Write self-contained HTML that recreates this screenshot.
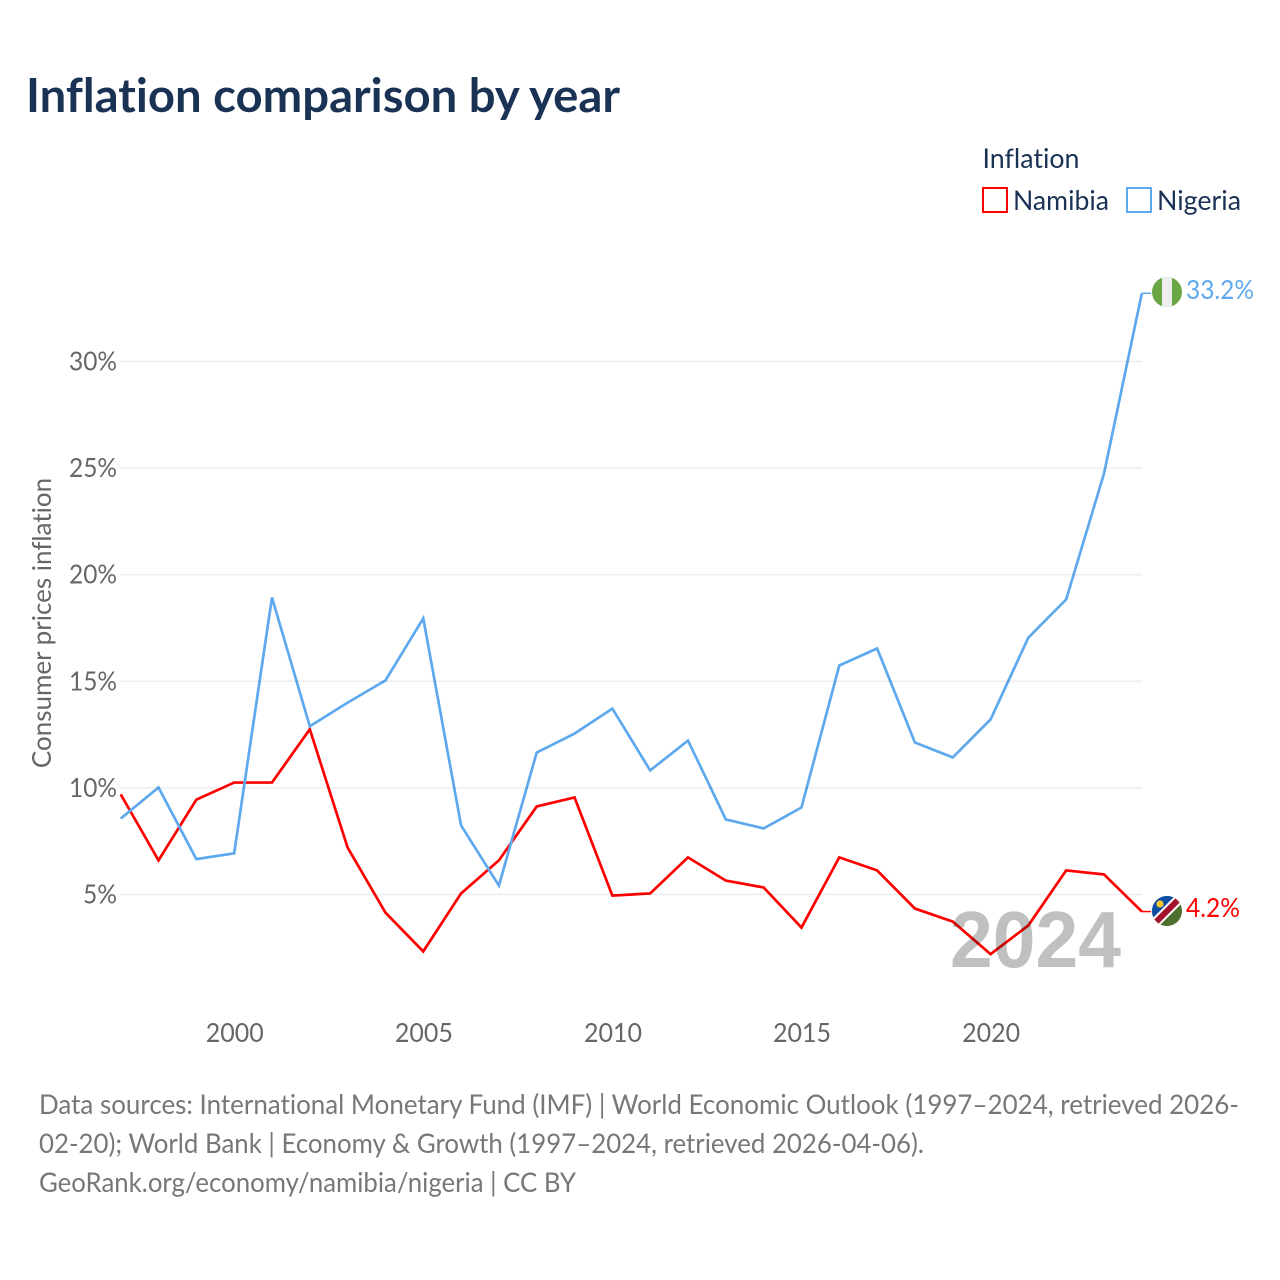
<!DOCTYPE html>
<html lang="en">
<head>
<meta charset="utf-8">
<title>Inflation comparison by year</title>
<style>
html,body{margin:0;padding:0;background:#fff;}
svg{display:block;font-family:"Lato","Carlito","Liberation Sans",sans-serif;font-variant-ligatures:none;}
</style>
</head>
<body>
<svg id="chart" xmlns="http://www.w3.org/2000/svg" width="1280" height="1280" viewBox="0 0 1280 1280">
  <defs>
    <clipPath id="clip-ng"><circle cx="1167" cy="292" r="15"/></clipPath>
    <clipPath id="clip-na"><circle cx="1167" cy="911" r="15"/></clipPath>
  </defs>
  <rect width="1280" height="1280" fill="#fff"/>
  <text x="26" y="112" font-size="47" font-weight="700" fill="#1a3355" textLength="594" lengthAdjust="spacingAndGlyphs">Inflation comparison by year</text>
  <text x="982.5" y="168" font-size="27" fill="#1a3355" textLength="97" lengthAdjust="spacingAndGlyphs">Inflation</text>
  <rect x="983" y="188" width="24" height="24" fill="none" stroke="#ff0000" stroke-width="2"/>
  <text x="1013" y="210" font-size="27" fill="#1a3355" textLength="96" lengthAdjust="spacingAndGlyphs">Namibia</text>
  <rect x="1127" y="188" width="24" height="24" fill="none" stroke="#5ea9ee" stroke-width="2"/>
  <text x="1157" y="210" font-size="27" fill="#1a3355" textLength="84" lengthAdjust="spacingAndGlyphs">Nigeria</text>
  <g id="grid"></g>
  <g id="y-axis"></g>
  <g id="x-axis"></g>
  <text transform="translate(51,623) rotate(-90)" text-anchor="middle" font-size="26" fill="#666">Consumer prices inflation</text>
  <text x="1121" y="967" text-anchor="end" font-family="'Liberation Sans',sans-serif" font-size="80" font-weight="700" fill="#c0c0c0" textLength="171" lengthAdjust="spacingAndGlyphs">2024</text>
  <g id="series" style="mix-blend-mode:multiply"></g>
  <g clip-path="url(#clip-ng)">
    <rect x="1152" y="277" width="30" height="30" fill="#6ba644"/>
    <rect x="1162" y="277" width="10" height="30" fill="#eeeeee"/>
  </g>
  <g clip-path="url(#clip-na)">
    <rect x="1152" y="896" width="30" height="30" fill="#4f6f2e"/>
    <polygon points="1152,896 1182,896 1152,926" fill="#0b4ea2"/>
    <line x1="1151" y1="927" x2="1183" y2="895" stroke="#fff" stroke-width="10"/>
    <line x1="1151" y1="927" x2="1183" y2="895" stroke="#a3132d" stroke-width="6"/>
    <circle cx="1160" cy="904" r="3.6" fill="#f6c92c"/>
  </g>
  <text id="label-nigeria" x="1186" y="299" font-size="26" fill="#5ea9ee" textLength="68" lengthAdjust="spacingAndGlyphs"></text>
  <text id="label-namibia" x="1186" y="917" font-size="26" fill="#ff0000" textLength="54" lengthAdjust="spacingAndGlyphs"></text>
  <g font-size="27" fill="#777">
    <text x="39" y="1114" textLength="1200" lengthAdjust="spacingAndGlyphs">Data sources: International Monetary Fund (IMF) | World Economic Outlook (1997–2024, retrieved 2026-</text>
    <text x="39" y="1153" textLength="885" lengthAdjust="spacingAndGlyphs">02-20); World Bank | Economy &amp; Growth (1997–2024, retrieved 2026-04-06).</text>
    <text x="39" y="1192" textLength="537" lengthAdjust="spacingAndGlyphs">GeoRank.org/economy/namibia/nigeria | CC BY</text>
  </g>
</svg>
<script>
const years = [1997,1998,1999,2000,2001,2002,2003,2004,2005,2006,2007,2008,2009,2010,2011,2012,2013,2014,2015,2016,2017,2018,2019,2020,2021,2022,2023,2024];
const namibia = [9.7,6.6,9.45,10.25,10.25,12.75,7.2,4.15,2.33,5.05,6.6,9.13,9.55,4.95,5.05,6.74,5.65,5.33,3.45,6.74,6.13,4.34,3.73,2.2,3.55,6.13,5.94,4.2];
const nigeria = [8.56,10.02,6.66,6.93,18.93,12.89,14.0,15.04,17.95,8.24,5.42,11.66,12.55,13.72,10.82,12.22,8.52,8.1,9.08,15.74,16.54,12.13,11.43,13.21,17.05,18.84,24.75,33.2];
const yTicks = [5,10,15,20,25,30];
const xTicks = [2000,2005,2010,2015,2020];

const NS = 'http://www.w3.org/2000/svg';
function xScale(year){ return 120.7 + (year - 1997) * 37.82; }
function yScale(value){ return 894.5 - (value - 5) * 21.32; }
function make(tag, attrs, parent){
  const el = document.createElementNS(NS, tag);
  for (const k in attrs) el.setAttribute(k, attrs[k]);
  parent.appendChild(el);
  return el;
}
const grid = document.getElementById('grid');
const yAxis = document.getElementById('y-axis');
const xAxis = document.getElementById('x-axis');
const seriesGroup = document.getElementById('series');

yTicks.forEach(function(t){
  const line = make('line', {x1:121, x2:1142, y1:yScale(t), y2:yScale(t), stroke:'#eeeeee', 'stroke-width':1.5}, grid);
  
  
  const label = make('text', {x:117, y:yScale(t)+9, 'text-anchor':'end', 'font-size':26, fill:'#666', textLength: t >= 10 ? 48 : 34, lengthAdjust:'spacingAndGlyphs'}, yAxis);
  
  
  label.textContent = t + '%';
});
xTicks.forEach(function(t){
  const label = make('text', {x:xScale(t)+0.6, y:1042, 'text-anchor':'middle', 'font-size':26, fill:'#666', textLength:58, lengthAdjust:'spacingAndGlyphs'}, xAxis);
  
  
  label.textContent = t;
});
function drawSeries(values, color){
  const pts = values.map(function(v, i){ return xScale(years[i]).toFixed(2) + ',' + yScale(v).toFixed(2); });
  const line = make('polyline', {points:pts.join(' '), fill:'none', stroke:color, 'stroke-width':2.7, 'stroke-linejoin':'miter'}, seriesGroup);
  return line;
}
const lineNamibia = drawSeries(namibia, '#ff0000');


const lineNigeria = drawSeries(nigeria, '#5ea9ee');



function drawStub(values, color){
  const last = values[values.length - 1];
  const x = xScale(years[years.length - 1]);
  return make('line', {x1:x, x2:x+9, y1:yScale(last), y2:yScale(last), stroke:color, 'stroke-width':1.5}, seriesGroup);
}
const stubNamibia = drawStub(namibia, '#ff0000');


const stubNigeria = drawStub(nigeria, '#5ea9ee');



document.getElementById('label-nigeria').textContent = nigeria[nigeria.length-1].toFixed(1) + '%';
document.getElementById('label-namibia').textContent = namibia[namibia.length-1].toFixed(1) + '%';
</script>
</body>
</html>
